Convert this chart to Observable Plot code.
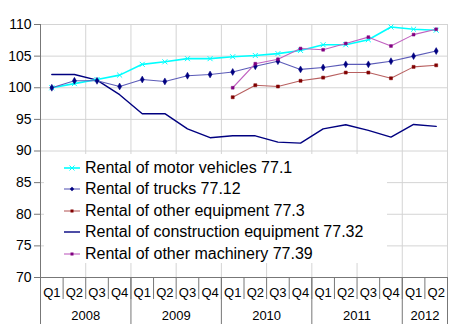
<!DOCTYPE html>
<html>
<head>
<meta charset="utf-8">
<script src="https://cdn.jsdelivr.net/npm/d3@7"></script>
<script src="https://cdn.jsdelivr.net/npm/@observablehq/plot@0.6"></script>
<style>
  html, body { margin: 0; padding: 0; background: #fff; }
  #wrap { position: relative; width: 450px; height: 334px; font-family: "Liberation Sans", Arial, sans-serif; }
  #legend { position: absolute; left: 44px; top: 154px; width: 343px; height: 109px; background: #fff; }
  .row { position: absolute; left: 0; height: 21.6px; width: 100%; }
  .row svg { position: absolute; left: 19px; top: 3px; }
  .row span { position: absolute; left: 41px; top: 1px; font-size: 16px; line-height: 20px; color: #000; white-space: nowrap; }
</style>
</head>
<body>
<div id="wrap"></div>
<script>
const quarters = ["Q1", "Q2", "Q3", "Q4"];
const years = ["2008", "2009", "2010", "2011", "2012"];
const periodCount = 18;

const seriesNames = [
  "Rental of motor vehicles 77.1",
  "Rental of trucks 77.12",
  "Rental of other equipment 77.3",
  "Rental of construction equipment 77.32",
  "Rental of other machinery 77.39"
];
const motorVehicles = [100.0, 100.65, 101.3, 102.0, 103.7, 104.1, 104.6, 104.6, 104.9, 105.1, 105.4, 105.9, 106.8, 106.8, 107.6, 109.6, 109.25, 109.1];
const trucks = [100.0, 101.1, 101.1, 100.2, 101.3, 101.0, 101.9, 102.1, 102.5, 103.4, 104.2, 102.9, 103.2, 103.7, 103.7, 104.2, 105.0, 105.8];
const otherEquipment = [null, null, null, null, null, null, null, null, 98.5, 100.4, 100.2, 101.1, 101.6, 102.4, 102.4, 101.5, 103.3, 103.55];
const construction = [102.1, 102.1, 101.2, 98.9, 95.9, 95.9, 93.5, 92.1, 92.4, 92.4, 91.4, 91.25, 93.5, 94.15, 93.25, 92.2, 94.2, 93.9];
const otherMachinery = [null, null, null, null, null, null, null, null, 100.0, 103.8, 104.5, 106.2, 106.0, 107.0, 108.0, 106.6, 108.4, 109.25];
const yTicks = [70, 75, 80, 85, 90, 95, 100, 105, 110];

const seriesValues = [motorVehicles, trucks, otherEquipment, construction, otherMachinery];
const styles = [
  {line: "#00ffff", width: 1.6, marker: "times", mfill: "none", mstroke: "#00ffff", r: 2.4},
  {line: "#5c5cb8", width: 1.1, marker: "diamond", mfill: "#000080", mstroke: "#000080", r: 2.1},
  {line: "#b86060", width: 1.1, marker: "square", mfill: "#800000", mstroke: "#800000", r: 1.7},
  {line: "#000080", width: 1.4, marker: null},
  {line: "#c060c0", width: 1.1, marker: "square", mfill: "#800080", mstroke: "#800080", r: 1.6}
];

const tables = seriesValues.map((vals, s) =>
  vals.map((v, i) => ({x: i + 0.5, y: v, s})).filter(d => d.y != null));

const marks = [
  Plot.gridX(d3.range(2, periodCount + 1, 2), {stroke: "#d4d4d4", strokeOpacity: 1}),
  Plot.gridY(yTicks.slice(1), {stroke: "#d4d4d4", strokeOpacity: 1}),
  Plot.axisY(yTicks, {tickSize: 6, tickPadding: 3, fontSize: 14, label: null, tickFormat: d => d, stroke: "#777", color: "#000"}),
  Plot.axisX(d3.range(0, periodCount + 1), {tickSize: 22, tickFormat: () => "", stroke: "#777", label: null}),
  Plot.axisX([0, 4, 8, 12, 16, 18], {tickSize: 47, tickFormat: () => "", stroke: "#777", label: null}),
  Plot.axisX(d3.range(periodCount).map(i => i + 0.5), {tickSize: 0, tickPadding: 10, fontSize: 13, label: null,
    tickFormat: v => quarters[Math.floor(v) % 4], color: "#000"}),
  Plot.axisX(years.map((y, k) => (k * 4 + Math.min(periodCount, k * 4 + 4)) / 2), {tickSize: 0, tickPadding: 33, fontSize: 13, label: null,
    tickFormat: v => years[Math.floor(v / 4)], color: "#000"}),
  Plot.ruleY([70], {stroke: "#777"}),
  Plot.ruleX([0], {stroke: "#777"})
];
[3, 0, 1, 2, 4].forEach(s => {
  const st = styles[s];
  marks.push(Plot.line(tables[s], {x: "x", y: "y", stroke: st.line, strokeWidth: st.width}));
  if (st.marker) marks.push(Plot.dot(tables[s], {x: "x", y: "y", symbol: () => st.marker, r: st.r, fill: st.mfill, stroke: st.mstroke, strokeWidth: st.marker === "times" ? 1 : 0.5}));
});

const chart = Plot.plot({
  width: 450,
  height: 334,
  marginLeft: 40,
  marginRight: 3,
  marginTop: 24,
  marginBottom: 57,
  style: {fontFamily: "'Liberation Sans', Arial, sans-serif", background: "#fff", color: "#000"},
  x: {domain: [0, periodCount], axis: null},
  y: {domain: [70, 110], axis: null},
  symbol: {type: "identity"},
  marks
});
const wrap = document.getElementById("wrap");
wrap.appendChild(chart);

const legend = document.createElement("div");
legend.id = "legend";
seriesNames.forEach((name, s) => {
  const st = styles[s];
  const row = document.createElement("div");
  row.className = "row";
  row.style.top = (2.5 + s * 21.6) + "px";
  let marker = "";
  if (st.marker === "times") marker = `<path d="M6.5 5.5l5 5M11.5 5.5l-5 5" stroke="${st.mstroke}" stroke-width="1"/>`;
  else if (st.marker === "diamond") marker = `<path d="M9 5.8l2.2 2.2l-2.2 2.2l-2.2-2.2z" fill="${st.mfill}"/>`;
  else if (st.marker === "square") marker = `<rect x="7.5" y="6.5" width="3" height="3" fill="${st.mfill}"/>`;
  row.innerHTML = `<svg width="18" height="16"><line x1="1" x2="17" y1="8" y2="8" stroke="${st.line}" stroke-width="${st.width}"/>${marker}</svg><span>${name}</span>`;
  legend.appendChild(row);
});
wrap.appendChild(legend);
</script>
</body>
</html>
